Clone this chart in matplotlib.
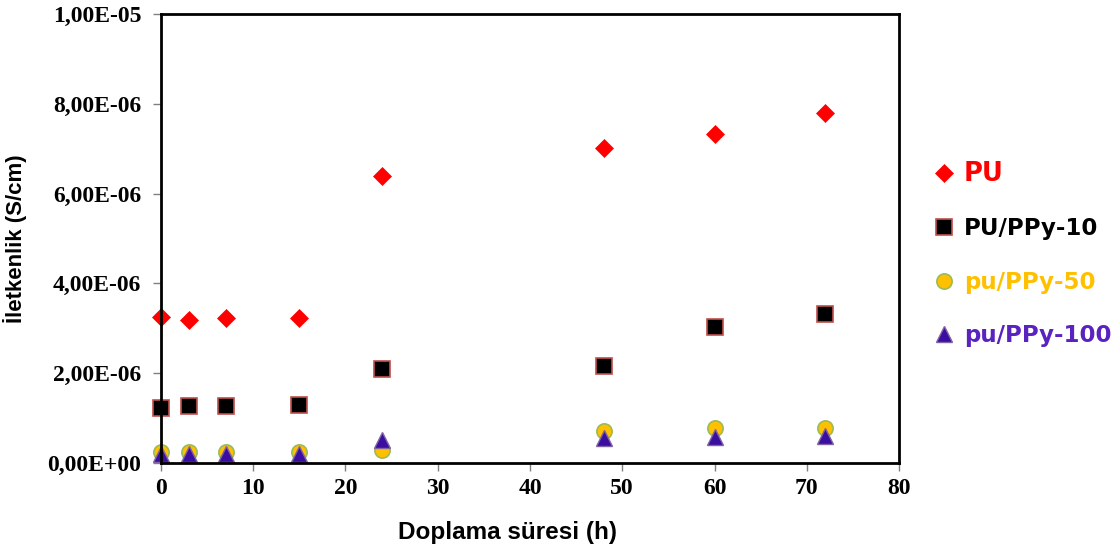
import matplotlib.pyplot as plt
from matplotlib.ticker import FuncFormatter, MultipleLocator

# doplama süresi (h)
hours = [0, 3, 7, 15, 24, 48, 60, 72]

# iletkenlik (S/cm)
pu = [3.25e-6, 3.18e-6, 3.22e-6, 3.22e-6, 6.39e-6, 7.02e-6, 7.33e-6, 7.80e-6]
pu_ppy10 = [1.22e-6, 1.27e-6, 1.27e-6, 1.29e-6, 2.10e-6, 2.17e-6, 3.03e-6, 3.32e-6]
pu_ppy50 = [2.5e-7, 2.5e-7, 2.5e-7, 2.5e-7, 3.0e-7, 7.2e-7, 7.7e-7, 7.7e-7]
pu_ppy100 = [2.0e-7, 2.0e-7, 2.0e-7, 2.0e-7, 5.2e-7, 5.6e-7, 5.8e-7, 6.0e-7]

labels = ['PU', 'PU/PPy-10', 'pu/PPy-50', 'pu/PPy-100']
label_colors = ['#FF0000', '#000000', '#FFC000', '#5A22C0']

fig = plt.figure(figsize=(11.2, 5.51), dpi=100)
ax = fig.add_axes([0.1437, 0.1597, 0.6590, 0.8149])

ax.plot(hours, pu, 'D', ms=9, color='#FF0000', mec='#FF0000', mew=0.5,
        clip_on=False, label=labels[0])
ax.plot(hours, pu_ppy10, 's', ms=11, color='#000000', mec='#C0504D', mew=1.2,
        clip_on=False, label=labels[1])
ax.plot(hours, pu_ppy50, 'o', ms=11, color='#FFC000', mec='#9BBB59', mew=1.2,
        clip_on=False, label=labels[2])
ax.plot(hours, pu_ppy100, '^', ms=11, color='#3A0EA0', mec='#8064A2', mew=1.0,
        clip_on=False, label=labels[3])

ax.set_xlim(0, 80)
ax.set_ylim(0, 1e-5)
ax.xaxis.set_major_locator(MultipleLocator(10))
ax.yaxis.set_major_locator(MultipleLocator(2e-6))
ax.yaxis.set_major_formatter(FuncFormatter(lambda v, p: f"{v:.2E}".replace('.', ',')))

for s in ax.spines.values():
    s.set_linewidth(2)
    s.set_color('black')
ax.tick_params(direction='out', length=6, width=1, color='#808080')
ax.tick_params(axis='y', pad=8)
ax.tick_params(axis='x', pad=5)
for t in ax.get_xticklabels() + ax.get_yticklabels():
    t.set_fontfamily('Liberation Serif')
    t.set_fontweight('bold')
    t.set_fontsize(17)

ax.set_xlabel('Doplama süresi (h)', fontsize=17.5, fontweight='bold',
              family='Liberation Sans')
ax.set_ylabel('İletkenlik (S/cm)', fontsize=16, fontweight='bold',
              family='Liberation Sans')
# label positions in axes fraction
ax.xaxis.set_label_coords((508 - 161) / 738, -(521 - 463) / 449)
ax.yaxis.set_label_coords(-(161 - 27) / 738, 0.5)

# legend outside the plot, coloured text
leg = ax.legend(loc='center left', bbox_to_anchor=(1.046, 0.465), frameon=False,
                borderaxespad=0, borderpad=0,
                handletextpad=0.34, handlelength=1.0, labelspacing=1.33,
                prop={'family': 'DejaVu Sans', 'weight': 'bold', 'size': 16.5})
for txt, c in zip(leg.get_texts(), label_colors):
    txt.set_color(c)
leg.get_texts()[0].set_fontsize(18.5)

plt.savefig('out.png', dpi=100)
